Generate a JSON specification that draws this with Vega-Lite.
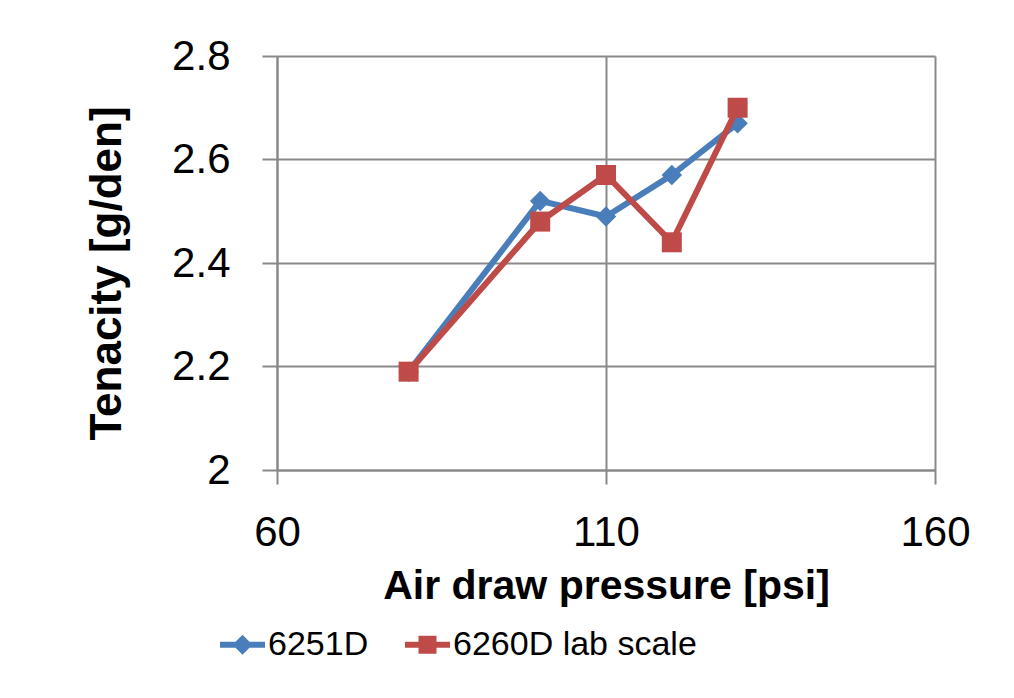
{
  "$schema": "https://vega.github.io/schema/vega-lite/v6.json",
  "width": 658,
  "height": 414,
  "autosize": {"type": "none"},
  "padding": {"left": 277, "top": 56, "right": 79, "bottom": 228},
  "background": "white",
  "config": {"view": {"stroke": null}, "font": "Liberation Sans"},
  "data": {
    "values": [
      {"series": "6251D", "pressure": 80, "tenacity": 2.19},
      {"series": "6251D", "pressure": 100, "tenacity": 2.52},
      {"series": "6251D", "pressure": 110, "tenacity": 2.49},
      {"series": "6251D", "pressure": 120, "tenacity": 2.57},
      {"series": "6251D", "pressure": 130, "tenacity": 2.67},
      {"series": "6260D lab scale", "pressure": 80, "tenacity": 2.19},
      {"series": "6260D lab scale", "pressure": 100, "tenacity": 2.48},
      {"series": "6260D lab scale", "pressure": 110, "tenacity": 2.57},
      {"series": "6260D lab scale", "pressure": 120, "tenacity": 2.44},
      {"series": "6260D lab scale", "pressure": 130, "tenacity": 2.70}
    ]
  },
  "encoding": {
    "x": {
      "field": "pressure",
      "type": "quantitative",
      "scale": {"domain": [60, 160], "nice": false, "zero": false},
      "axis": {
        "values": [60, 110, 160],
        "format": "d",
        "labelFontSize": 42,
        "labelColor": "black",
        "labelPadding": 28,
        "labelFlush": false,
        "labelOverlap": false,
        "tickSize": 14,
        "tickColor": "#898989",
        "tickWidth": 2,
        "domainColor": "#898989",
        "domainWidth": 2,
        "grid": true,
        "gridColor": "#898989",
        "gridWidth": 2,
        "title": "Air draw pressure [psi]",
        "titleFontSize": 41,
        "titleFontWeight": "bold",
        "titleColor": "black",
        "titleX": 329,
        "titleY": 128,
        "titleBaseline": "alphabetic",
        "titleAlign": "center"
      }
    },
    "y": {
      "field": "tenacity",
      "type": "quantitative",
      "scale": {"domain": [2, 2.8], "nice": false, "zero": false},
      "axis": {
        "values": [2, 2.2, 2.4, 2.6, 2.8],
        "format": "~g",
        "labelFontSize": 42,
        "labelColor": "black",
        "labelPadding": 32,
        "labelFlush": false,
        "labelOverlap": false,
        "tickSize": 15,
        "tickColor": "#898989",
        "tickWidth": 2,
        "domainColor": "#898989",
        "domainWidth": 2,
        "grid": true,
        "gridColor": "#898989",
        "gridWidth": 2,
        "title": "Tenacity [g/den]",
        "titleFontSize": 44,
        "titleFontWeight": "bold",
        "titleColor": "black",
        "titleAngle": -90,
        "titleX": -157,
        "titleY": 217,
        "titleBaseline": "alphabetic",
        "titleAlign": "center"
      }
    },
    "color": {
      "field": "series",
      "type": "nominal",
      "scale": {"domain": ["6251D", "6260D lab scale"], "range": ["#4A7EBB", "#BE4B48"]},
      "legend": {
        "orient": "none",
        "legendX": -57,
        "legendY": 566,
        "direction": "horizontal",
        "title": null,
        "symbolSize": 2025,
        "labelFontSize": 34,
        "labelFont": "Liberation Sans",
        "labelColor": "black",
        "labelLimit": 0,
        "labelOffset": 3,
        "columnPadding": 36,
        "padding": 0,
        "encode": {
          "symbols": {
            "update": {
              "shape": {"signal": "datum.value === '6251D' ? 'M-1,-0.13L-0.31,-0.13L0,-0.44L0.31,-0.13L1,-0.13L1,0.13L0.31,0.13L0,0.44L-0.31,0.13L-1,0.13Z' : 'M-1,-0.13L-0.4,-0.13L-0.4,-0.4L0.4,-0.4L0.4,-0.13L1,-0.13L1,0.13L0.4,0.13L0.4,0.4L-0.4,0.4L-0.4,0.13L-1,0.13Z'"},
              "fill": {"signal": "datum.value === '6251D' ? '#4A7EBB' : '#BE4B48'"},
              "fillOpacity": {"value": 1},
              "strokeWidth": {"value": 0},
              "opacity": {"value": 1}
            }
          }
        }
      }
    }
  },
  "layer": [
    {
      "transform": [{"filter": "datum.series === '6251D'"}],
      "mark": {"type": "line", "strokeWidth": 6}
    },
    {
      "transform": [{"filter": "datum.series === '6251D'"}],
      "mark": {"type": "point", "shape": "diamond", "filled": true, "size": 420, "opacity": 1}
    },
    {
      "transform": [{"filter": "datum.series === '6260D lab scale'"}],
      "mark": {"type": "line", "strokeWidth": 6}
    },
    {
      "transform": [{"filter": "datum.series === '6260D lab scale'"}],
      "mark": {"type": "point", "shape": "square", "filled": true, "size": 400, "opacity": 1}
    }
  ]
}
